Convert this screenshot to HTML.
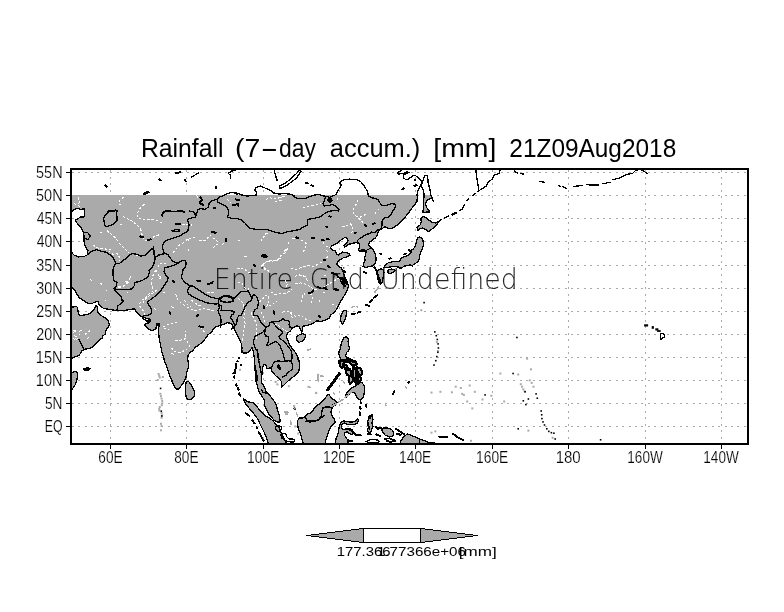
<!DOCTYPE html>
<html lang="en"><head><meta charset="utf-8"><title>Rainfall (7-day accum.) [mm] 21Z09Aug2018</title>
<style>
html,body{margin:0;padding:0;background:#fff;}
body{width:784px;height:612px;overflow:hidden;}
svg{display:block;}
text{font-family:"Liberation Sans",sans-serif;fill:#000;}
.lab{stroke:#fff;stroke-width:0.18px;}
.ttl{}
.egu{font-family:"DejaVu Sans","Liberation Sans",sans-serif;font-weight:200;fill-opacity:0.85;}
.grid{stroke:#aaa;stroke-width:1;fill:none;shape-rendering:crispEdges;}
.gh{stroke-dasharray:2 4.4;}
.gv{stroke-dasharray:2 4.5;}
.coast{fill:none;stroke:#000;stroke-width:1.3;stroke-linejoin:round;stroke-linecap:round;shape-rendering:crispEdges;}
.land{fill:#aaa;stroke:none;shape-rendering:crispEdges;}
.isl{fill:none;stroke:#000;stroke-width:1.3;stroke-linejoin:round;shape-rendering:crispEdges;}
.river{fill:none;stroke:#fff;stroke-width:1;stroke-dasharray:2.5 1.8;shape-rendering:crispEdges;}
.gd{fill:#aaa;}
.bd{fill:#000;}
</style></head><body>
<svg width="784" height="612" viewBox="0 0 784 612">
<rect x="0" y="0" width="784" height="612" fill="#fff"/>
<defs><clipPath id="plot"><rect x="71" y="169" width="677" height="275"/></clipPath><clipPath id="landclip"><rect x="71" y="195" width="677" height="249"/></clipPath></defs>
<g clip-path="url(#landclip)"><polygon class="land" points="71,195 417,195.1 417.4,197.3 416.9,201.6 414.3,205.1 411.4,208.7 408.6,213 405,217.3 401.4,220.9 397.9,224.4 394.3,227.3 390.7,228.7 387.1,228 385,226.6 382.1,228.7 380,229.4 381.2,228.9 378.6,231.1 377,235.4 375.4,238 372.1,240.2 369.5,242.3 368.4,245.5 371.1,247.1 373.2,249.8 374.8,253 375.9,256.8 375.9,261.1 374.8,264.3 372.7,265.9 368.9,266.4 365.7,267.5 363,266.4 363.6,263.8 365.2,260.5 364.6,257.3 365.7,254.1 366.2,251.4 363.6,250.9 360.4,251.4 358.2,249.8 359.8,247.1 359.3,243.9 356.6,242.6 352.9,243.1 349.6,244.1 347,245.5 344.8,246.9 343.8,245.5 346.4,243.4 348,240.7 347.5,238.4 344.8,237.5 342.1,239.1 338.9,241.8 335.7,244.1 332,245.9 330.4,247.7 331.4,249.5 335.2,250.9 336.8,254.1 338.4,254.9 340.5,253.6 342.1,252 345.9,252.5 349.1,253.4 349.9,255.5 347,256.8 343.2,257.9 340.5,259.5 338.1,261.6 336.8,264.3 338.7,266.6 341.3,267.7 342.7,270.7 344.1,275 345.9,279.3 347,281.8 348.6,286.1 347,290.4 344.8,294.6 342.7,298.4 340,302.1 338.4,305.4 336.8,309.1 334.1,312.3 330.9,315 329.3,318.2 325,320.4 320.7,321.4 316.4,320.9 314.3,322.5 311.1,324.1 308.4,325.2 305.2,325.7 303,326.2 302.5,328.9 302,332.1 300.4,330 299.8,327.3 297.1,325.7 295,326.8 292.3,328.4 290.2,331.1 288,332.7 286.4,335.4 287,338.6 288.6,342.3 290.2,345.5 292.3,348.8 295,352 297.1,355.7 298.2,360 298.4,358.1 299.3,362.6 299.5,367.1 298.9,370.7 297.1,373.8 294.4,376.1 291.7,377.9 289,380.1 286.7,382.3 284,385 281.5,387.3 281.5,384.6 281.3,381.5 280,379.2 277.7,377.4 275.5,375.6 273.7,373.4 271.9,371.1 271.5,368.4 270.1,368 267,368.4 266.1,366.2 265.6,364.4 263.8,364.2 262.9,366.6 262.5,369.8 262,373.4 261.6,377 261.1,380.1 262,383.2 263.8,385.9 265.2,388.6 266.1,391.8 268.3,394 270.6,396.3 272.3,399 274.6,401.7 275.6,403 276.8,407.2 278,411.4 279.2,415 279.8,419.2 280.4,421.8 278,422.2 275,421 272.6,418.6 270.2,415.6 267.8,412.6 266,408.4 264.2,404.2 264.2,400 262.4,397 260,393.4 258.2,389.2 257,384.4 256.2,382.3 255.7,378.8 255.3,375.2 255.7,371.6 255.3,368 254.8,364.4 254.4,360.8 254.2,357.2 253.5,353.6 253,350 252,347.4 250.2,350.4 247.2,352.8 243.6,353.4 241.4,351.6 242.1,348 241.4,343.8 239.4,339.6 237.6,335.4 235.2,331.2 233.4,327 231,323.4 227.4,322.8 223.2,324.6 219,325.8 215.4,327 212.4,330.6 212.7,330 211.5,332.4 207.9,334.8 205.5,338.4 202.5,342 198.9,345 195.3,347.4 192.9,350.4 189.9,352.8 188.2,355.2 187.6,358.8 188.2,362.3 188.5,365.9 188,368.6 186.8,372.2 186.2,376.4 185,380 183.2,383 181.4,385.4 179.6,388.4 177.2,389.3 174.8,387.2 173,383.6 171.4,379.4 169.4,374.6 167.6,369.8 166.4,365 165.4,363.5 163.6,357.6 161.8,351.6 160.6,345.6 159.4,339.6 158.8,334.8 158.8,330 158.2,325.8 157.6,323.4 157.6,323.4 156.5,325.2 155.9,328.8 152.9,330.5 149.9,329.9 146.9,327.6 144.5,325.2 145.7,323.4 148.7,322.8 150.5,321 149.9,319.2 145.7,318 142.7,317.4 139.1,315 136.7,312 134.3,309 130.7,309.3 125.9,310.2 121.2,310.5 117.6,310.8 114,310.2 110.4,309.6 106.8,309 103.2,308.1 100.8,306.6 99,304.2 98.1,301.8 96,301.8 94.2,302.4 91.8,303.6 88.8,303.8 85.8,302.1 82.8,300 79.8,298.2 78,295.8 76.2,292.8 74.4,289.8 72.6,288 71,287.4 71,287.4 72,252.9 74,255 77.9,256.9 83.6,256.7 87.1,255 87.9,250.7 85.7,247.1 84.3,244.3 84,240 83.9,235.4 82.9,231.4 81.4,228.3 79.3,225.7 77.1,223.1 75.4,220.3 77.9,218.6 81.1,216.9 84.3,216.9 84.9,212.9 84.3,209 80.7,209.3 77.1,208.3 74.3,209.3 72,211.7 71,211.7"/>
<polygon class="land" points="71,306 71,306 73.2,307.2 75,306 77.4,307.2 78,311.4 79.2,315.3 82.8,315.3 86.4,314.6 90,313.4 92.4,311.4 94.8,308.4 96,305.4 97.4,307.2 97.4,310.8 98.4,313.2 100.8,315.3 103.8,317 106.8,319.2 108.6,321.6 109.2,324.6 108,327.6 106.2,329.9 105,334.2 102.6,336 102,338.4 99.6,339.6 97.8,341.4 96,343.8 94.2,345 92.4,347.4 90,348.2 87,348.9 84,349.4 81.6,351 80.4,353.4 79.2,355.2 76.2,356.4 73.2,357.8 71,358.5 71,358.5"/>
<polygon class="land" points="344.3,310.2 346.4,310.7 346.6,313.9 345.4,318.2 343.8,322.5 342.1,324.1 340.9,321.4 340.5,317.7 341.6,313.9 343.2,311.2"/>
<polygon class="land" points="296.6,337 299.3,334.8 302.5,333.8 305.2,334.3 305.7,336.4 304.1,339.1 302,341.2 299.3,342.3 297.1,341.2 296.3,339.1"/>
<polygon class="land" points="186.2,381.8 188.6,381.5 191,384.2 192.8,387.8 194.2,391.4 194.6,395 193.4,397.6 191,399.2 188,399.5 186.2,397.4 185.6,393.8 185.3,389.6 185.6,385.4"/>
<polygon class="land" points="421.4,217.3 424.3,216.6 427.9,219.4 432.1,222.3 435.7,223 438.6,221.6 436.4,225.1 434.3,227.3 431.4,229.4 428.6,231.6 425.7,229.4 422.9,228 420,228.7 417.9,230.9 417.1,227.3 420,225.1 421.4,221.6 420.7,218.7"/>
<polygon class="land" points="419.3,237.1 421.4,237.7 423,240.9 423.6,244.6 422.5,248.4 420.9,251.6 419.8,255.4 419.3,259.1 417.7,261.8 415.5,263.4 413.4,264.5 412.3,266.1 410.2,265 407.5,265.5 404.3,266.1 402.1,267.7 400,268.2 398.4,267.1 395.7,266.6 392.5,266.6 389.3,267.1 386.1,267.7 383.9,267.1 386.1,264.5 388.2,262.9 391.4,262 395.7,261.2 399.5,261.2 400.5,259.1 402.1,257.5 404.3,256.4 407,255.9 409.6,254.3 411.8,252.1 411.2,250 413.4,248.9 415,246.8 416.1,243.6 416.6,240.4 417.7,237.7"/>
<polygon class="land" points="378,270.4 380.7,268.8 383.4,269.8 383.9,272.5 383.4,275.7 382.9,278.9 382.3,282.1 380.7,284.3 379.1,282.7 378,279.5 377.5,275.7 377,273"/>
<polygon class="land" points="387.7,270.4 390.9,269.1 394.1,269.3 395.2,270.9 393,272.5 390.4,273.6 388.2,273"/>
<polygon class="land" points="71,373.8 73.2,372 76.2,371.4 77.4,373.2 77.4,376.8 76.8,380.4 75.6,384 73.8,387 72,389.3 71,389.9 69.6,389.9 69.6,373.8"/>
<polygon class="land" points="84,368.6 87,367.9 90,368.4 89.7,369.8 86.4,370.3 84,370"/>
<polygon class="land" points="424.7,175.4 427.3,175.9 427.8,178.6 428.1,182.2 428.7,184.9 429.6,188.5 430.5,192.1 430.9,195.2 431.8,197 433.6,201.5 432.7,199.7 431.4,198.3 429.6,198.8 427.8,199.7 426.5,201.5 425.6,203.7 426,205.5 426.9,207.8 428.2,209.6 429.6,210.9 429.1,212.3 426.9,211.8 424.7,212.7 422.9,212.3 423.3,209.1 423.6,205.5 423.6,201.9 423.8,198.3 424.2,195.2 423.9,193 423.3,190.7 422.4,188 421.5,186.2 422,183.5 422.9,180.8 423.8,178.1"/>
<polygon class="land" points="243.8,398.8 246.8,401.4 250.4,402.4 254,403 256.4,406 259.4,409.6 263,413.2 266,416.2 269.6,418 273.2,421 275.6,424 278,426.4 280.4,429.9 281.6,434.7 284,438.3 286.4,443.4 286.4,446.7 268.4,446.7 268.4,443.4 266.6,438.3 264.8,433.5 262.4,428.8 260,424 258.2,419.8 255.8,416.2 252.8,412.6 249.8,409 246.8,405.4 244.4,401.8"/>
<polygon class="land" points="303.1,446.7 303.1,443 301.9,439.5 301.3,435.9 300.1,432.3 298.3,428.8 297.7,424.6 297.7,420.4 299.5,418 303.1,418 305.5,416.2 307.9,413.8 311.5,412.6 313.6,409.2 317.2,405.6 320.8,402.6 324.4,399 327.4,395.4 328.6,394.2 330.4,396.6 332.8,399 335.8,400.8 337,402.6 335.2,405 332.8,406.8 331.6,409.2 331,412.2 332.2,415.8 334,418.8 335.2,422.4 333.4,424.2 331,426.6 329.2,430.2 328,433.8 326.8,437.3 325.6,440.9 325,443.3 325,446.9"/>
<polygon class="land" points="344.1,337.3 346.8,336.8 348.4,338.9 348.1,342.1 348.7,345.4 349.5,348 348.4,350.7 346.8,352.3 345.7,355 346.2,357.1 348.9,358.2 351.6,359.8 354.3,360.9 356.4,362.5 357,364.6 355.4,365.7 352.7,365.2 350.5,363.6 348.9,362.5 346.8,361.4 344.1,360.4 341.4,359.8 339.8,357.1 338.8,353.9 339.1,351.2 340.4,349.1 340.9,345.9 341.4,342.7 342.5,340"/>
<polygon class="land" points="348.4,390.6 351.4,388.2 355,386.4 358,383.4 361.6,382.2 364,385.2 364.6,389.4 364,394.2 362.8,397.8 360.4,400.2 358,398.4 356.2,396 355,393 352.6,391.8 350.2,393 348.4,394.8 346.6,397.2 345.4,396 346.6,393"/>
<polygon class="land" points="358.6,420 357.4,423 354.4,424.4 350.8,424.8 347.2,424.4 344.2,423 342.1,424.2 341.4,427.2 343,429.6 346,429 349,428.4 352,429.6 353.2,432.6 352,434.9 349.6,433.8 347.2,432 344.8,432.6 344.2,434.9 346,437.3 347.8,440.3 348.4,443.9 348.4,446.9 335.2,446.9 335.2,443.3 335.8,439.7 337,436.1 338.2,432.6 338.8,429 339.4,425.4 341.2,422.4 343.6,420.8 347.2,421.8 352,422 355.6,421.2 357.7,419.1"/>
<polygon class="land" points="369.3,415.8 372.3,414.6 372.9,419.4 371.7,423 372.9,426.6 371.1,431.4 368.8,433.8 367.6,430.2 368.8,425.4 367.6,421.8"/>
<polygon class="land" points="381.3,428.3 386.4,427.8 391.5,429.3 393.6,432.3 393,435.9 389.5,436.9 385.4,435.4 382.8,432.3"/>
<polygon class="land" points="400.2,446.9 400.2,442.1 403.2,437.3 407.4,433.8 411.6,435.5 415.8,437.3 420,439.1 424.8,440.9 428.4,442.4 434.4,443.1 434.4,446.9"/></g><g><line class="grid gh" x1="71.8" y1="426.5" x2="747" y2="426.5"/><line class="grid gh" x1="71.8" y1="403.5" x2="747" y2="403.5"/><line class="grid gh" x1="71.8" y1="380.5" x2="747" y2="380.5"/><line class="grid gh" x1="71.8" y1="357.5" x2="747" y2="357.5"/><line class="grid gh" x1="71.8" y1="334.5" x2="747" y2="334.5"/><line class="grid gh" x1="71.8" y1="311.5" x2="747" y2="311.5"/><line class="grid gh" x1="71.8" y1="288.5" x2="747" y2="288.5"/><line class="grid gh" x1="71.8" y1="265.5" x2="747" y2="265.5"/><line class="grid gh" x1="71.8" y1="241.5" x2="747" y2="241.5"/><line class="grid gh" x1="71.8" y1="218.5" x2="747" y2="218.5"/><line class="grid gh" x1="71.8" y1="195.5" x2="747" y2="195.5"/><line class="grid gh" x1="71.8" y1="172.5" x2="747" y2="172.5"/><line class="grid gv" x1="110.5" y1="170" x2="110.5" y2="443"/><line class="grid gv" x1="186.5" y1="170" x2="186.5" y2="443"/><line class="grid gv" x1="263.5" y1="170" x2="263.5" y2="443"/><line class="grid gv" x1="339.5" y1="170" x2="339.5" y2="443"/><line class="grid gv" x1="415.5" y1="170" x2="415.5" y2="443"/><line class="grid gv" x1="492.5" y1="170" x2="492.5" y2="443"/><line class="grid gv" x1="568.5" y1="170" x2="568.5" y2="443"/><line class="grid gv" x1="645.5" y1="170" x2="645.5" y2="443"/><line class="grid gv" x1="721.5" y1="170" x2="721.5" y2="443"/></g><g clip-path="url(#plot)"><text class="egu" font-size="28.3"><tspan x="213.77" y="288.6" textLength="79.27" lengthAdjust="spacingAndGlyphs">Entire</tspan> <tspan x="309.86" y="288.6" textLength="53.98" lengthAdjust="spacingAndGlyphs">Grid</tspan> <tspan x="380.23" y="288.6" textLength="137.61" lengthAdjust="spacingAndGlyphs">Undefined</tspan></text><polyline class="river" points="107.1,230.7 111.4,234.3 115.7,237.9 119.3,242.9 122.9,247.1 126.4,250.7 128.6,252.9"/>
<polyline class="river" points="122.9,216.4 127.1,218.6 131.4,220.7 136.4,224.3 140.7,228.6 141.4,232.9 143.6,238.6 145.7,240.7 150,239.3 155.7,235.7 161.4,234.3"/>
<polyline class="river" points="144.3,204.3 140,208.6 137.1,213.6 137.9,217.9 141.4,219.3 147.9,219.3 155.7,220 161.4,222.9"/>
<polyline class="river" points="77.9,197.1 79.3,201.4 78.6,205.7 81.1,207.9"/>
<polyline class="river" points="73.6,202.9 75.7,204.3"/>
<polyline class="river" points="123.6,197.1 119.3,200.7 119.3,204.3 122.9,204.3"/>
<polyline class="river" points="100,232.9 103.6,232.1"/>
<polyline class="river" points="120,225 122.9,223.6"/>
<polyline class="river" points="92.9,245 98.6,248.6 104.3,248.6 108.6,250 112.9,247.9"/>
<polyline class="river" points="108.6,250.7 112.9,254.3 117.1,253.6 119.3,257.1 120,261.4"/>
<polyline class="river" points="135.7,255 140,256.4 144.3,255"/>
<polyline class="river" points="172.9,252.9 176.4,248.6 180,244.3 182,243.6"/>
<polyline class="river" points="157.9,267.1 160,262.9 162.9,263.6 167.1,262.9"/>
<polyline class="river" points="155.7,270 157.9,273.6 159.3,277"/>
<polyline class="river" points="196.3,195.4 198,197.4"/>
<polyline class="river" points="182,224.3 187.7,224.3 192,225.1"/>
<polyline class="river" points="182,243.6 185.6,241.4 187.7,238.6 192,237.9 196.3,237.1"/>
<polyline class="river" points="187.7,238.6 189.1,242.9"/>
<polyline class="river" points="199.1,240 204.9,240.7 208.4,237.1 209.9,235 212.7,237.9 216.3,240 218.4,243.6 214.9,246.4 210.6,248.6"/>
<polyline class="river" points="222,244.3 226.3,242.9"/>
<polyline class="river" points="237.7,240.1 240.9,240.3"/>
<polyline class="river" points="260.6,241.4 263.4,237.9 264.9,234.3 267.7,232.9"/>
<polyline class="river" points="265.6,199.3 270.6,197.9 276.3,198.6 282,197.1 285.1,196.4"/>
<polyline class="river" points="274.9,201.4 282,200.7"/>
<polyline class="river" points="287.7,248.6 284.9,252.9 280.6,255.7 279.1,258.6 274.9,260.7 269.1,260.7 264.1,262.9 263.4,267.1 266.3,270 270.6,272.9"/>
<polyline class="river" points="244.3,256.4 248,257.1"/>
<polyline class="river" points="237,268.6 240.6,267.9"/>
<polyline class="river" points="244.9,268.6 249.1,272.9"/>
<polyline class="river" points="227,199.3 230.6,202.6"/>
<polyline class="river" points="288.4,242.1 288.4,244.3"/>
<polyline class="river" points="292,238.6 294,238.3"/>
<polyline class="river" points="188.4,248.6 189.1,251.4"/>
<polyline class="river" points="357.9,200.1 356.4,203.7 354.3,207.3 352.9,210.9 354.3,214.4 357.9,217.3 361.4,220.9 364.3,224.4 365.7,227.3"/>
<polyline class="river" points="360,217.3 365.7,214.4"/>
<polyline class="river" points="375,211.6 376,214.4"/>
<polyline class="river" points="378.6,208.7 378.9,210.1"/>
<polyline class="river" points="342.1,226.3 347.1,225.9 350,223.7 352.9,226.6 352.9,230.9 350,234.4"/>
<polyline class="river" points="302.9,208 308.6,206.3 315.7,205.1 321.4,203.7"/>
<polyline class="river" points="280,197.3 284.3,196.6"/>
<polyline class="river" points="292.9,238 298.6,238.7 302.9,240.9 306.4,243.7 305.7,248 302.9,252.3"/>
<polyline class="river" points="285.7,249.4 282.9,253.7"/>
<polyline class="river" points="322.9,242.3 325.7,245.9 330,247.3"/>
<polyline class="river" points="326.4,250.1 327.9,252.3"/>
<polyline class="river" points="337.1,198.7 337.9,200.1"/>
<polyline class="river" points="260.9,266.4 263.7,263.6 269.4,261.4 276.6,260.7 280.9,257.9"/>
<polyline class="river" points="295.1,283.6 300.9,282.9 306.6,284.3 310.9,287.1 313.7,290 318,289.3 323.7,287.1 329.4,283.6 336.6,279.3 342.3,277.1"/>
<polyline class="river" points="295.1,276.4 299.4,275 305.1,276.4 308,281.4"/>
<polyline class="river" points="290.9,268.6 296.6,269.3 302.3,267.1 308,265.7 313.7,266.4 319.4,263.6 325.1,259.3 329.4,255"/>
<polyline class="river" points="270.9,292.1 275.1,294.3 280.9,293.6 286.6,292.9 292.3,289.3"/>
<polyline class="river" points="300.9,302.1 302.3,296.4 305.1,293.6"/>
<polyline class="river" points="310.9,303.6 312.3,297.9 310.9,294.3"/>
<polyline class="river" points="319.4,302.1 320.9,297.9"/>
<polyline class="river" points="282.3,312.1 288,311.4 292.3,315 296.6,316.4 300.9,315 306.6,320 312.3,320.7"/>
<polyline class="river" points="290.9,312.1 292.3,317.9"/>
<polyline class="river" points="240.9,267.9 246.6,270.7 250.9,273.6"/>
<polyline class="river" points="238,297.9 242.3,302.1 245.1,309.3 243.7,316.4 245.1,323.6 243.7,332.1 242.3,340.7"/>
<polyline class="river" points="250.9,312.1 253.7,317.9 256.6,323.6 256.6,332.1 256.6,340.7"/>
<polyline class="river" points="259.4,302.1 263.7,297.9 266.6,295"/>
<polyline class="river" points="268,296.4 268.7,303.6 266.6,306.4 272.3,305 276.6,300.7"/>
<polyline class="river" points="260.9,312.1 263.7,316.4 264.4,322.1"/>
<polyline class="river" points="274.4,323.6 279.4,326.4 283.7,329.3 288,332.1"/>
<polyline class="river" points="263.7,269.3 268,270.7 270.9,273.6"/>
<polyline class="river" points="243.7,256.4 248,257.1"/>
<polyline class="river" points="332.3,304.3 336.6,306.4"/>
<polyline class="river" points="323.7,292.1 325.4,293.3"/>
<polyline class="river" points="238,282.1 242.3,283.6 245.1,287.9 249.4,289.3"/>
<polyline class="river" points="323.7,275 326.6,276.4"/>
<polyline class="river" points="285.1,280.7 287.3,283.6 286.6,287.1"/>
<polyline class="river" points="155.7,270 152.9,275.7 151.4,281.4 152.1,287.1 152.9,291.4 148.6,294.3 145,297.9 141.4,300.7 139.3,304.3 140.7,308.6 144.3,311.4 145,315.7"/>
<polyline class="river" points="160.7,277.1 158.6,281.4"/>
<polyline class="river" points="157.1,290 152.9,292.9 148.6,296.4 144.3,300 142.9,304.3"/>
<polyline class="river" points="159.3,276.4 161.4,277.1 160.7,279.3"/>
<polyline class="river" points="118.6,287.9 124.3,285.7 127.9,281.4 130.7,277.1"/>
<polyline class="river" points="126.9,292.1 128.3,292.6"/>
<polyline class="river" points="175.7,294.3 177.1,298.6 180,302.1 184.3,305 188.6,307.9 192.9,310 198.6,310 204.3,308.6 210,310 215.7,310.7"/>
<polyline class="river" points="184.3,300 187.1,304.3 191.4,307.1"/>
<polyline class="river" points="191.4,300 195.7,303.6 201.4,306.4"/>
<polyline class="river" points="171.4,306.4 173.6,307.9"/>
<polyline class="river" points="207.1,292.1 215.7,292.1"/>
<polyline class="river" points="162.9,327.1 167.1,325 172.9,323.6 178.6,321.4"/>
<polyline class="river" points="163.6,328.6 168.6,329.3"/>
<polyline class="river" points="200,327.1 202.9,330 205.7,333.6"/>
<polyline class="river" points="175,340 181.4,340 185.7,338.6 185.7,331.4"/>
<polyline class="river" points="187.1,340.7 189.3,345.7 191.4,347.9"/>
<polyline class="river" points="171.4,347.9 174.3,351.4 178.6,352.9 184.3,350.7 187.1,349.3"/>
<polyline class="river" points="171.4,353.6 174.3,354.3"/>
<polyline class="river" points="154.3,308.6 156,309.3"/>
<polyline class="river" points="163.6,292.1 165,292.6"/>
<polyline class="river" points="73.2,330.6 75.6,330"/>
<polyline class="river" points="79.2,331.4 81.6,330.6"/>
<polyline class="river" points="74.4,335.4 78,338.4"/>
<polyline class="river" points="85.2,334.2 90,331.4"/>
<polyline class="river" points="87.3,338.2 88.8,337.4"/>
<polyline class="river" points="73.2,338.4 75,340.2"/>
<polyline class="river" points="73.2,332.3 77.4,330.5"/>
<polyline class="river" points="78.6,335.3 81.6,332.3"/>
<polyline class="river" points="85.2,334.7 90,329.9"/>
<polyline class="river" points="75,338.3 77.4,340.1"/>
<polyline class="river" points="90.6,279 91.8,281.4"/>
<polyline class="river" points="100.2,283.2 104.4,285.6"/>
<polyline class="river" points="105.6,289.8 106.8,290.4"/>
<polyline class="river" points="105,300 105.8,300.7"/>
<polyline class="river" points="130.1,276.6 130.7,278.4"/>
<polyline class="river" points="125.3,282 128.9,281.4 127.1,284.4"/>
<polyline class="river" points="118.2,286.8 122.4,286.8"/>
<polyline class="coast" points="417,195.1 417.4,197.3 416.9,201.6 414.3,205.1 411.4,208.7 408.6,213 405,217.3 401.4,220.9 397.9,224.4 394.3,227.3 390.7,228.7 387.1,228 385,226.6 382.1,228.7 380,229.4 381.2,228.9 378.6,231.1 377,235.4 375.4,238 372.1,240.2 369.5,242.3 368.4,245.5 371.1,247.1 373.2,249.8 374.8,253 375.9,256.8 375.9,261.1 374.8,264.3 372.7,265.9 368.9,266.4 365.7,267.5 363,266.4 363.6,263.8 365.2,260.5 364.6,257.3 365.7,254.1 366.2,251.4 363.6,250.9 360.4,251.4 358.2,249.8 359.8,247.1 359.3,243.9 356.6,242.6 352.9,243.1 349.6,244.1 347,245.5 344.8,246.9 343.8,245.5 346.4,243.4 348,240.7 347.5,238.4 344.8,237.5 342.1,239.1 338.9,241.8 335.7,244.1 332,245.9 330.4,247.7 331.4,249.5 335.2,250.9 336.8,254.1 338.4,254.9 340.5,253.6 342.1,252 345.9,252.5 349.1,253.4 349.9,255.5 347,256.8 343.2,257.9 340.5,259.5 338.1,261.6 336.8,264.3 338.7,266.6 341.3,267.7 342.7,270.7 344.1,275 345.9,279.3 347,281.8 348.6,286.1 347,290.4 344.8,294.6 342.7,298.4 340,302.1 338.4,305.4 336.8,309.1 334.1,312.3 330.9,315 329.3,318.2 325,320.4 320.7,321.4 316.4,320.9 314.3,322.5 311.1,324.1 308.4,325.2 305.2,325.7 303,326.2 302.5,328.9 302,332.1 300.4,330 299.8,327.3 297.1,325.7 295,326.8 292.3,328.4 290.2,331.1 288,332.7 286.4,335.4 287,338.6 288.6,342.3 290.2,345.5 292.3,348.8 295,352 297.1,355.7 298.2,360 298.4,358.1 299.3,362.6 299.5,367.1 298.9,370.7 297.1,373.8 294.4,376.1 291.7,377.9 289,380.1 286.7,382.3 284,385 281.5,387.3 281.5,384.6 281.3,381.5 280,379.2 277.7,377.4 275.5,375.6 273.7,373.4 271.9,371.1 271.5,368.4 270.1,368 267,368.4 266.1,366.2 265.6,364.4 263.8,364.2 262.9,366.6 262.5,369.8 262,373.4 261.6,377 261.1,380.1 262,383.2 263.8,385.9 265.2,388.6 266.1,391.8 268.3,394 270.6,396.3 272.3,399 274.6,401.7 275.6,403 276.8,407.2 278,411.4 279.2,415 279.8,419.2 280.4,421.8 278,422.2 275,421 272.6,418.6 270.2,415.6 267.8,412.6 266,408.4 264.2,404.2 264.2,400 262.4,397 260,393.4 258.2,389.2 257,384.4 256.2,382.3 255.7,378.8 255.3,375.2 255.7,371.6 255.3,368 254.8,364.4 254.4,360.8 254.2,357.2 253.5,353.6 253,350 252,347.4 250.2,350.4 247.2,352.8 243.6,353.4 241.4,351.6 242.1,348 241.4,343.8 239.4,339.6 237.6,335.4 235.2,331.2 233.4,327 231,323.4 227.4,322.8 223.2,324.6 219,325.8 215.4,327 212.4,330.6 212.7,330 211.5,332.4 207.9,334.8 205.5,338.4 202.5,342 198.9,345 195.3,347.4 192.9,350.4 189.9,352.8 188.2,355.2 187.6,358.8 188.2,362.3 188.5,365.9 188,368.6 186.8,372.2 186.2,376.4 185,380 183.2,383 181.4,385.4 179.6,388.4 177.2,389.3 174.8,387.2 173,383.6 171.4,379.4 169.4,374.6 167.6,369.8 166.4,365 165.4,363.5 163.6,357.6 161.8,351.6 160.6,345.6 159.4,339.6 158.8,334.8 158.8,330 158.2,325.8 157.6,323.4 157.6,323.4 156.5,325.2 155.9,328.8 152.9,330.5 149.9,329.9 146.9,327.6 144.5,325.2 145.7,323.4 148.7,322.8 150.5,321 149.9,319.2 145.7,318 142.7,317.4 139.1,315 136.7,312 134.3,309 130.7,309.3 125.9,310.2 121.2,310.5 117.6,310.8 114,310.2 110.4,309.6 106.8,309 103.2,308.1 100.8,306.6 99,304.2 98.1,301.8 96,301.8 94.2,302.4 91.8,303.6 88.8,303.8 85.8,302.1 82.8,300 79.8,298.2 78,295.8 76.2,292.8 74.4,289.8 72.6,288 71,287.4"/>
<polyline class="coast" points="71,306 73.2,307.2 75,306 77.4,307.2 78,311.4 79.2,315.3 82.8,315.3 86.4,314.6 90,313.4 92.4,311.4 94.8,308.4 96,305.4 97.4,307.2 97.4,310.8 98.4,313.2 100.8,315.3 103.8,317 106.8,319.2 108.6,321.6 109.2,324.6 108,327.6 106.2,329.9 105,334.2 102.6,336 102,338.4 99.6,339.6 97.8,341.4 96,343.8 94.2,345 92.4,347.4 90,348.2 87,348.9 84,349.4 81.6,351 80.4,353.4 79.2,355.2 76.2,356.4 73.2,357.8 71,358.5"/>
<polyline class="coast" points="72,211.7 74.3,209.3 77.1,208.3 80.7,209.3 84.3,209 84.9,212.9 84.3,216.9 81.1,216.9 77.9,218.6 75.4,220.3 77.1,223.1 79.3,225.7 81.4,228.3 82.9,231.4 83.9,235.4 84,240 84.3,244.3 85.7,247.1 87.9,250.7 87.1,255 83.6,256.7 77.9,256.9 74,255 72,252.9"/>
<polygon class="isl" points="344.3,310.2 346.4,310.7 346.6,313.9 345.4,318.2 343.8,322.5 342.1,324.1 340.9,321.4 340.5,317.7 341.6,313.9 343.2,311.2"/>
<polygon class="isl" points="296.6,337 299.3,334.8 302.5,333.8 305.2,334.3 305.7,336.4 304.1,339.1 302,341.2 299.3,342.3 297.1,341.2 296.3,339.1"/>
<polygon class="isl" points="186.2,381.8 188.6,381.5 191,384.2 192.8,387.8 194.2,391.4 194.6,395 193.4,397.6 191,399.2 188,399.5 186.2,397.4 185.6,393.8 185.3,389.6 185.6,385.4"/>
<polygon class="isl" points="421.4,217.3 424.3,216.6 427.9,219.4 432.1,222.3 435.7,223 438.6,221.6 436.4,225.1 434.3,227.3 431.4,229.4 428.6,231.6 425.7,229.4 422.9,228 420,228.7 417.9,230.9 417.1,227.3 420,225.1 421.4,221.6 420.7,218.7"/>
<polygon class="isl" points="419.3,237.1 421.4,237.7 423,240.9 423.6,244.6 422.5,248.4 420.9,251.6 419.8,255.4 419.3,259.1 417.7,261.8 415.5,263.4 413.4,264.5 412.3,266.1 410.2,265 407.5,265.5 404.3,266.1 402.1,267.7 400,268.2 398.4,267.1 395.7,266.6 392.5,266.6 389.3,267.1 386.1,267.7 383.9,267.1 386.1,264.5 388.2,262.9 391.4,262 395.7,261.2 399.5,261.2 400.5,259.1 402.1,257.5 404.3,256.4 407,255.9 409.6,254.3 411.8,252.1 411.2,250 413.4,248.9 415,246.8 416.1,243.6 416.6,240.4 417.7,237.7"/>
<polygon class="isl" points="378,270.4 380.7,268.8 383.4,269.8 383.9,272.5 383.4,275.7 382.9,278.9 382.3,282.1 380.7,284.3 379.1,282.7 378,279.5 377.5,275.7 377,273"/>
<polygon class="isl" points="387.7,270.4 390.9,269.1 394.1,269.3 395.2,270.9 393,272.5 390.4,273.6 388.2,273"/>
<polygon class="isl" points="71,373.8 73.2,372 76.2,371.4 77.4,373.2 77.4,376.8 76.8,380.4 75.6,384 73.8,387 72,389.3 71,389.9 69.6,389.9 69.6,373.8"/>
<polygon class="isl" points="84,368.6 87,367.9 90,368.4 89.7,369.8 86.4,370.3 84,370"/>
<polygon class="isl" points="424.7,175.4 427.3,175.9 427.8,178.6 428.1,182.2 428.7,184.9 429.6,188.5 430.5,192.1 430.9,195.2 431.8,197 433.6,201.5 432.7,199.7 431.4,198.3 429.6,198.8 427.8,199.7 426.5,201.5 425.6,203.7 426,205.5 426.9,207.8 428.2,209.6 429.6,210.9 429.1,212.3 426.9,211.8 424.7,212.7 422.9,212.3 423.3,209.1 423.6,205.5 423.6,201.9 423.8,198.3 424.2,195.2 423.9,193 423.3,190.7 422.4,188 421.5,186.2 422,183.5 422.9,180.8 423.8,178.1"/>
<polygon class="isl" points="243.8,398.8 246.8,401.4 250.4,402.4 254,403 256.4,406 259.4,409.6 263,413.2 266,416.2 269.6,418 273.2,421 275.6,424 278,426.4 280.4,429.9 281.6,434.7 284,438.3 286.4,443.4 286.4,446.7 268.4,446.7 268.4,443.4 266.6,438.3 264.8,433.5 262.4,428.8 260,424 258.2,419.8 255.8,416.2 252.8,412.6 249.8,409 246.8,405.4 244.4,401.8"/>
<polygon class="isl" points="303.1,446.7 303.1,443 301.9,439.5 301.3,435.9 300.1,432.3 298.3,428.8 297.7,424.6 297.7,420.4 299.5,418 303.1,418 305.5,416.2 307.9,413.8 311.5,412.6 313.6,409.2 317.2,405.6 320.8,402.6 324.4,399 327.4,395.4 328.6,394.2 330.4,396.6 332.8,399 335.8,400.8 337,402.6 335.2,405 332.8,406.8 331.6,409.2 331,412.2 332.2,415.8 334,418.8 335.2,422.4 333.4,424.2 331,426.6 329.2,430.2 328,433.8 326.8,437.3 325.6,440.9 325,443.3 325,446.9"/>
<polygon class="isl" points="344.1,337.3 346.8,336.8 348.4,338.9 348.1,342.1 348.7,345.4 349.5,348 348.4,350.7 346.8,352.3 345.7,355 346.2,357.1 348.9,358.2 351.6,359.8 354.3,360.9 356.4,362.5 357,364.6 355.4,365.7 352.7,365.2 350.5,363.6 348.9,362.5 346.8,361.4 344.1,360.4 341.4,359.8 339.8,357.1 338.8,353.9 339.1,351.2 340.4,349.1 340.9,345.9 341.4,342.7 342.5,340"/>
<polygon class="isl" points="348.4,390.6 351.4,388.2 355,386.4 358,383.4 361.6,382.2 364,385.2 364.6,389.4 364,394.2 362.8,397.8 360.4,400.2 358,398.4 356.2,396 355,393 352.6,391.8 350.2,393 348.4,394.8 346.6,397.2 345.4,396 346.6,393"/>
<polygon class="isl" points="358.6,420 357.4,423 354.4,424.4 350.8,424.8 347.2,424.4 344.2,423 342.1,424.2 341.4,427.2 343,429.6 346,429 349,428.4 352,429.6 353.2,432.6 352,434.9 349.6,433.8 347.2,432 344.8,432.6 344.2,434.9 346,437.3 347.8,440.3 348.4,443.9 348.4,446.9 335.2,446.9 335.2,443.3 335.8,439.7 337,436.1 338.2,432.6 338.8,429 339.4,425.4 341.2,422.4 343.6,420.8 347.2,421.8 352,422 355.6,421.2 357.7,419.1"/>
<polygon class="isl" points="369.3,415.8 372.3,414.6 372.9,419.4 371.7,423 372.9,426.6 371.1,431.4 368.8,433.8 367.6,430.2 368.8,425.4 367.6,421.8"/>
<polygon class="isl" points="381.3,428.3 386.4,427.8 391.5,429.3 393.6,432.3 393,435.9 389.5,436.9 385.4,435.4 382.8,432.3"/>
<polygon class="isl" points="400.2,446.9 400.2,442.1 403.2,437.3 407.4,433.8 411.6,435.5 415.8,437.3 420,439.1 424.8,440.9 428.4,442.4 434.4,443.1 434.4,446.9"/>
<polyline class="coast" points="417,195.2 417.5,192.1 418.8,188.9 420.2,186.2 421.5,184 422.4,181.7 421.1,180.4 419.3,179 417.5,177.2 415.2,175.4 412.5,175.9 410.3,177.7 408.5,179 406.2,179.5 404,178.6 403.5,175.9 404,173.2 406.7,171.8 408.9,172.3 406.7,173.6 404.9,174.5"/>
<polyline class="coast" points="404,173.2 401.3,173.6 399,174.1 397.2,172.7 399.5,171.4 401.3,170.5"/>
<polyline class="coast" points="384.4,439 389.5,438.7 394.6,439.5 395.6,441.7"/>
<polyline class="coast" points="366,441.7 369.1,440 373.1,439.3 377.2,440 379.8,441.7 376.2,442.6 370.1,442.6 366,441.7"/>
<polyline class="coast" points="475.7,168.7 476.7,177.2 478.8,190.5"/>
<polyline class="coast" points="500.2,169.5 499.2,173.2 494.1,175.2 492,179.3 488,182.3 485.9,186.4 480.8,189.5 477.8,191.5"/>
<polyline class="coast" points="514.5,171.1 517.6,173.2"/>
<polyline class="coast" points="520.6,173.6 523.7,174.2"/>
<polyline class="coast" points="540,181.3 544.1,182.3"/>
<polyline class="coast" points="558.4,185.4 560.4,186.4"/>
<polyline class="coast" points="562.4,186.4 566.5,188.5"/>
<polyline class="coast" points="573.7,186.4 582.9,185.4"/>
<polyline class="coast" points="586.9,184.8 597.1,184.4"/>
<polyline class="coast" points="590,185.4 598.2,185"/>
<polyline class="coast" points="602.2,183.8 610.4,182.3"/>
<polyline class="coast" points="612.4,179.7 618.6,178.3 622.7,176.2 627.8,174.2 632.9,173.2 635.9,170.1 641,169.5 645.1,172.1 647.1,173.2"/>
<polyline class="coast" points="475.7,193.2 472.7,195.6"/>
<polyline class="coast" points="468.6,198.7 466.5,200.7"/>
<polyline class="coast" points="464.5,204.8 462.4,208.9"/>
<polyline class="coast" points="456.3,213 452.2,215"/>
<polyline class="coast" points="438.6,221.6 441.4,219.4"/>
<polyline class="coast" points="444.3,218 448.6,215.9"/>
<polyline class="coast" points="451.4,214.4 455.7,212.3"/>
<polyline class="coast" points="460,210.1 462,209.1"/>
<polyline class="coast" points="87.1,255 90,252.1 93.6,250.7 96.4,249.7 100.7,251.1 105.7,252.1 109.3,254.3 112.9,257.1 115,261.4 115.7,263.6 119.3,263.6 122.9,260.7 126.4,258.3 129.3,255 132.1,253.6 136.4,254.3 140.7,256 144.3,255.7 147.9,252.9 150.7,249.3 152.9,248.9 154,252.9 154.3,257.1 155.7,257.1 158.6,255 162.1,254.3 165,253.6 167.9,254.3 168.6,255.7"/>
<polyline class="coast" points="115.7,263.6 113.6,267.1 112.9,271.4 113.6,277"/>
<polyline class="coast" points="168.6,255 164.3,252.9 162.1,247.1 163.6,242.9 167.1,240 171.4,238.6 176.4,237.1 182,235"/>
<polyline class="coast" points="117,310.2 117.6,306 120,304.2 122.4,301.8 121.8,298.8 120.6,295.8 118.2,293.4 115.2,291 114,288.6"/>
<polyline class="coast" points="114,288.6 116.4,285.6 117,282 114,280.8 113.4,277.2 112.8,273.6 112.8,270"/>
<polyline class="coast" points="114,288.6 118.8,289.8 123.6,289.4 128.3,289.8 132.5,288.6 134.3,285.6 134.9,282.6 139.1,281.4 142.7,280.2 145.7,278.4 148.1,276 149.3,273 149.3,270"/>
<polyline class="coast" points="153.8,246.4 153.8,250 154.4,254.8 155,259.6 153.8,263.8 152,268 149,270.4"/>
<polyline class="coast" points="155,257.2 158,255.4 161.6,254.2 165.8,253.6 168.2,254.8 170,257.8 172.4,260.8 176,262.6 179,262.6"/>
<polyline class="coast" points="164.6,268 164,271.6 165.8,275.2 168.2,277.6 167,281.2 164.6,284.8 162.2,288.4 160.4,291.4 158,293.8 155,296.2 151.4,299.2 147.2,301.6 149,305.2 151.4,308.8 151.4,313.5 148.4,315.3 144.2,315.3 143,318.3 146,320.7 148.4,323"/>
<polyline class="coast" points="164.6,268 168.8,266.8 172.4,265.6 176,264.4 179,262.6 181.4,260.8 185,260.8 186.2,263.2 185.6,266.8 183.2,269.2 182.6,272.8 181.4,275.8 182,278.8 184.4,281.8 187.4,284.2 190.4,286 192.8,286 196.4,288.4 199.9,290.8 203.5,293.2 207.1,295.6 211.9,297.4 216.7,298.6 219.7,298 222.7,296.2 226.3,295.6 229.9,296.2 234,298"/>
<polyline class="coast" points="190.4,286 188,289 187.4,292 189.2,294.4 192.8,296.8 197.6,299.2 202.3,301 207.1,302.8 211.9,303.7 216.7,304 218.5,302.8 219.1,298.6"/>
<polyline class="coast" points="182,234.3 184.9,232.9 187.7,231.4 188.4,227.9 189.1,224.3 187.7,220.7 188.4,218.6 192,217.9 195.6,217.1 196.3,214.3 197.7,210 200.6,208.6 204.9,209.3 208.4,207.1 209.1,203.6 210.6,201.4 214.1,200 217,199.3"/>
<polyline class="coast" points="217,199.3 219.1,197.1 223.4,195.7 227.7,193.6 232,192.1 236.3,192.9 242,195 246.3,196 252,195.7 256.3,195 256.3,191.4 254.9,190"/>
<polyline class="coast" points="217,199.3 217.7,202.1 222,204.3 226.3,206.4 228.4,210 228.4,213.6 227.7,217.1 231.3,218.3 237,218.6 242,220.3 245.6,223.6 247.7,226.4 250.6,228.6 256.3,229.3 262,229.7 266.3,229.3 270.6,230.7 276.3,232.6 282,233.6 287.7,231.7 294,230.7"/>
<polyline class="coast" points="271.3,190.7 273.4,192.9 279.1,194 284.9,193.6 290.6,194.3 294,195.7"/>
<polyline class="coast" points="350,179.4 355.7,179.4 360.7,181.6 364.3,185.9 367.1,190.9 368.6,195.9 372.9,198 377.9,199.4 380,203 382.1,205.9 387.1,205.1 391.4,203.7 395,204 395.7,206.6 392.9,210.9 390.7,215.1 387.9,217.3 384.3,218 382.1,220.9 382.1,225.1 381.4,228.7"/>
<polyline class="coast" points="381.2,228.9 378.6,229.5 376.4,231.1 374.3,232.7 371.6,232.1 369.5,233.8 366.2,234.3 364.1,235.9 361.4,237.5 358.8,239.1 357.1,241.2 358.8,243.7"/>
<polyline class="coast" points="359.8,250.4 363,249.5 366.2,250.4 368.9,249.1 371.3,247.4"/>
<polyline class="coast" points="258,305 257.6,307.7 254.9,309.9 253.5,312.6 254,315.8 257.6,315.8 258.9,318.5 260.3,321.2 261.6,323.4 263.9,325.2 266.1,327"/>
<polyline class="coast" points="266.1,327 264.8,329.7 263,332 260.3,333.8 257.6,335.1 255.3,336 254,339.1 253.5,342.7 254.4,345.9 255.8,349 257.6,351.7 258.5,355.3 258.9,360"/>
<polyline class="coast" points="266.1,327 268.8,326.1 269.7,323 272,321.6 275.6,321.2 278.7,321.2 281.4,320.3 283.2,318.5 285,320.3 287.7,320.7 289.5,322.1 289,324.8 289.9,327 292.2,327.6"/>
<polyline class="coast" points="272,321.6 273.8,323 275.1,325.2 276.9,327.5 279.1,329.3 281.8,331.1 282.7,333.3 280.5,335.1 278.7,336.5 280,338.7 282.7,340.5 285.4,343.2 288.1,346.3 290.4,349.5 291.7,352.6 292.2,356.2 291.7,360"/>
<polyline class="coast" points="266.1,327 265.2,331.1 264.3,333.8 265.7,336 268.4,336.5 268.8,339.6 267.9,342.7 266.6,345 268.4,345.4 271.1,343.6 273.8,342.3 276,341.4 277.8,342.7 279.6,345 280.9,348.1 282.3,351.7 283.6,355.3 284.5,360"/>
<polyline class="coast" points="257.1,350 257.5,354.5 258.4,359 259.3,363.5 260.2,368 261.1,372.5 261.6,376.1"/>
<polyline class="coast" points="271.5,368.4 272.8,364.4 274.6,361.7 277.7,361 281.3,361.2 284.9,361.2 288.5,360.8 291.2,361.2 292.1,363.5 292.6,366.6 292.1,369.3 289.9,371.1 287.6,372.5 286.7,374.7 284,376.1 282.2,377.4"/>
<polyline class="coast" points="232.8,299.2 235.5,297 238.2,294.3 240.9,292 244,291.1 246.7,291.6 248.1,290.7 249.4,292.9 250.3,295.6 252.1,297 251.7,300.1 249.4,301.5 246.7,304.1 244.9,306.8 244,310 242.2,313.1 240.9,315.4 238.6,315.8 237.3,318.5 236.8,322.1 235.9,325 233.7,327.5 231.5,328.9"/>
<polyline class="coast" points="252.1,297 253.9,294.7 256.2,296.1 257.5,298.8 258.4,302.3 258,305.5"/>
<polyline class="coast" points="220.7,327.5 220.7,325 221.1,321.2 220.7,317.6 219.3,314 218,310.4 219.3,307.7 218.4,304.6 221.6,305.9 221.1,310.4 224.3,310.4 227.9,310.4 231.5,310.9 234.1,311.3 233.7,314 231.5,314.9 230.6,317.6 232.3,320.3 233.7,323 234.6,325.7"/>
<polyline class="coast" points="220.7,298.8 223.4,296.1 226.1,296.5 228.8,297 231,297.9 232.8,299.2 233.2,301.5 230.6,301.9 227,302.3 223.4,301.9 221.1,301.5 220.7,298.8"/>
<polyline class="coast" points="305.2,421.8 310,420.6 314.8,421.2 319,419.4 321.4,415.8 322,411 323.2,407.4 328,406.8 331.6,407.4"/>
<polyline class="coast" points="305.5,416.8 306.7,420.4 309.7,422.2 313.9,421 318.7,419.8 321.7,417.4 324,415.6"/>
<polyline class="coast" points="261.4,389.2 263,392.2 266,393.4"/>
<polyline class="coast" points="419.4,439.1 419.4,443.3"/>
<polyline class="coast" points="168.6,210.9 172.9,211.4 178.6,211.1 182.9,210.9"/>
<polyline class="coast" points="189.1,211 193.1,211.7 194.9,213.6 196,217.1"/>
<polyline class="coast" points="294,230.7 300,229.4 302.9,227.3 307.9,225.1 307.1,223 307.9,219.4 311.4,218.7 315.7,218 320.7,216.6 324.3,213.7 328.6,211.6 332.9,210.6 338.6,210.9 339.3,209.4 336.4,206.6 332.9,204.4 328.6,205.4 324.3,205.9 322.9,203.7 324.3,200.9 325.7,196.6"/>
<polyline class="coast" points="294,195.7 294.3,197.3 298.6,198.7 304.3,198.7 310,196.6 314.3,195.1 318.6,194.4 322.9,195.9 325.7,196.3 329.3,197.3 332.9,195.9 336.4,194.4 337.9,190.9 340,187.3 341.4,184.4 339.3,183 341.4,180.9 345,179.4 350,179.1"/>
<polyline class="coast" points="191.4,176.9 198.6,173.1"/>
<polyline class="coast" points="228.6,173.1 231.4,171.1 235.7,170.3"/>
<polyline class="coast" points="230,174 230.6,178"/>
<polyline class="coast" points="274.3,170.3 275.7,176 277.1,180.3"/>
<polyline class="coast" points="200,197.4 202,199.7"/>
<polyline class="coast" points="254.9,190 255.6,187.9 260.6,186 266.3,188.6 271.3,190.7"/>
<polyline class="coast" points="84,349.2 81.6,344.4 78.9,339.4"/>
<polygon class="isl" points="339.4,360.8 343,360.1 344.4,362.9 343.7,366.5 341.5,368 339.7,365.1" style="stroke-width:2.2;fill:#aaa"/>
<polygon class="isl" points="345.5,359.7 348.4,359.3 348.7,361.9 346.2,362.2" style="stroke-width:2.2;fill:#aaa"/>
<polygon class="isl" points="348.7,360.8 352.3,361.5 355.9,361.5 356.6,363.7 353.8,365.1 350.9,364.4" style="stroke-width:2.2;fill:#aaa"/>
<polygon class="isl" points="356.6,367.3 360.2,368 361.7,370.8 361.7,374.4 359.5,375.2 358.1,372.3 356.6,370.1" style="stroke-width:2.2;fill:#aaa"/>
<polygon class="isl" points="357.3,375.2 360.2,375.9 360.9,378.8 360.2,381.6 358.4,380.2 357.7,377.7" style="stroke-width:2.2;fill:#aaa"/>
<polygon class="isl" points="346.6,370.1 350.2,369.4 351.6,372.3 350.2,375.9 347.3,375.2 346.2,372.3" style="stroke-width:2.2;fill:#aaa"/>
<polygon class="isl" points="348.7,376.6 351.6,375.9 353,378.8 352.3,382.3 350.2,383.8 348.7,380.9" style="stroke-width:2.2;fill:#aaa"/>
<polygon class="isl" points="353,366.5 355.2,368 355.9,371.6 355.6,375.2 355.9,378.8 354.8,382.3 353.8,380.2 353.4,376.6 352.7,371.6" style="stroke-width:2.2;fill:#aaa"/>
<polygon class="isl" points="355.2,381.6 358.1,381.6 358.4,383.8 355.9,384.1" style="stroke-width:2.2;fill:#aaa"/>
<polygon class="isl" points="343,364.4 346.6,365.1 348,368 345.1,368.7" style="stroke-width:2.2;fill:#aaa"/>
<polyline class="coast" points="339.4,373.7 327.5,389.9" style="stroke-width:3"/>
<polyline class="coast" points="402.2,189.2 403.5,188.3" style="stroke-width:2"/>
<polyline class="coast" points="414.3,185.9 416.6,185.1" style="stroke-width:2"/>
<polyline class="coast" points="414.8,179.7 415.3,180.2" style="stroke-width:2"/>
<polyline class="coast" points="375.7,426.7 378.2,429.3" style="stroke-width:2"/>
<polyline class="coast" points="379.3,427.8 382.3,428.8" style="stroke-width:2"/>
<polyline class="coast" points="376.2,434.4 380.3,435.9" style="stroke-width:2"/>
<polyline class="coast" points="368,433.9 370.6,434.4" style="stroke-width:2"/>
<polyline class="coast" points="396.1,428.8 399.7,431.3 403.8,433.9" style="stroke-width:2"/>
<polyline class="coast" points="396.6,433.6 400.7,434.9" style="stroke-width:2"/>
<polyline class="coast" points="386.4,441 390.5,441.7 393.6,441.3" style="stroke-width:2"/>
<polyline class="coast" points="162.1,215.7 162.9,213.1 165,211.4 168.6,210.9" style="stroke-width:2"/>
<polyline class="coast" points="175.4,223.9 180,224.3" style="stroke-width:2"/>
<polyline class="coast" points="140,236.4 142.9,237.1" style="stroke-width:2"/>
<polyline class="coast" points="147.9,240 150.7,239.3" style="stroke-width:2"/>
<polyline class="coast" points="143.6,193.6 147.1,192.1" style="stroke-width:2"/>
<polyline class="coast" points="108.3,211.4 115.7,210.4" style="stroke-width:2"/>
<polyline class="coast" points="200.6,197.1 202,200 199.4,202.9 203.4,205" style="stroke-width:2"/>
<polyline class="coast" points="182,211.4 184,211.7" style="stroke-width:2"/>
<polyline class="coast" points="213.7,207.9 215.1,208.3" style="stroke-width:2"/>
<polyline class="coast" points="234.1,192.6 237.4,194" style="stroke-width:2"/>
<polyline class="coast" points="235.6,199.4 239.1,200" style="stroke-width:2"/>
<polyline class="coast" points="233.1,204.7 238.4,204.3 238.4,206" style="stroke-width:2"/>
<polyline class="coast" points="212,231.7 215.6,232.9" style="stroke-width:2"/>
<polyline class="coast" points="226,238.6 226.4,241.4" style="stroke-width:2"/>
<polyline class="coast" points="253.9,265 254.4,265.3" style="stroke-width:2"/>
<polyline class="coast" points="306.1,183 307.9,183.3" style="stroke-width:2"/>
<polyline class="coast" points="311.1,185.4 313.1,185.7" style="stroke-width:2"/>
<polyline class="coast" points="326,226.6 327.1,226.9" style="stroke-width:2"/>
<polyline class="coast" points="329.3,216.3 330.9,216.6" style="stroke-width:2"/>
<polyline class="coast" points="365.3,225.1 366.1,225.7" style="stroke-width:2"/>
<polyline class="coast" points="372.6,224 374.6,223.4" style="stroke-width:2"/>
<polyline class="coast" points="311.7,238.3 314.3,237.7" style="stroke-width:2"/>
<polyline class="coast" points="296.4,237.4 297.7,238" style="stroke-width:2"/>
<polyline class="coast" points="354.6,233 356,232.6" style="stroke-width:2"/>
<polyline class="coast" points="327.1,239.1 328.9,239.4" style="stroke-width:2"/>
<polyline class="coast" points="322.3,240.1 323.7,240.4" style="stroke-width:2"/>
<polyline class="coast" points="365.7,305 369.3,305.7" style="stroke-width:2"/>
<polyline class="coast" points="370,302.1 372.1,300" style="stroke-width:2"/>
<polyline class="coast" points="373.6,297.9 377.1,295.4" style="stroke-width:2"/>
<polyline class="coast" points="351.7,314.3 355,313.6" style="stroke-width:2"/>
<polyline class="coast" points="357.9,312.6 360,312.1" style="stroke-width:2"/>
<polyline class="coast" points="380,253.6 381.1,254" style="stroke-width:2"/>
<polyline class="coast" points="389.3,258.9 390.7,258.3" style="stroke-width:2"/>
<polyline class="coast" points="363.6,272.1 366.4,272.9" style="stroke-width:2"/>
<polyline class="coast" points="374.3,267.1 375.7,269.3" style="stroke-width:2"/>
<polyline class="coast" points="332.1,272.9 337.1,275" style="stroke-width:2"/>
<polyline class="coast" points="328.6,266.4 329.7,267.1" style="stroke-width:2"/>
<polyline class="coast" points="340,278.6 345.7,281.4" style="stroke-width:2"/>
<polyline class="coast" points="341.4,282.9 345,285.7" style="stroke-width:2"/>
<polyline class="coast" points="334.3,289.3 336.4,290" style="stroke-width:2"/>
<polyline class="coast" points="325,287.9 326.4,288.6" style="stroke-width:2"/>
<polyline class="coast" points="376.4,270.7 377.9,275.7" style="stroke-width:2"/>
<polyline class="coast" points="378.6,277.1 380.7,282.9" style="stroke-width:2"/>
<polyline class="coast" points="404.3,254.3 405.7,253.6" style="stroke-width:2"/>
<polyline class="coast" points="409.3,250 410.3,251.1" style="stroke-width:2"/>
<polyline class="coast" points="333.4,404.7 335.1,404" style="stroke-width:2"/>
<polyline class="coast" points="346.4,396.3 348.1,395.3" style="stroke-width:2"/>
<polyline class="coast" points="360.6,402 361,403.6" style="stroke-width:2"/>
<polyline class="coast" points="360.2,406.8 360.6,408.9" style="stroke-width:2"/>
<polyline class="coast" points="359.6,412 360,415.1" style="stroke-width:2"/>
<polyline class="coast" points="392.6,394.2 394.5,391.5" style="stroke-width:2"/>
<polyline class="coast" points="408.3,382.7 409.1,382.1" style="stroke-width:2"/>
<polyline class="coast" points="365.9,404.7 366.5,406.8" style="stroke-width:2"/>
<polyline class="coast" points="355.4,434.6 360.6,435.4" style="stroke-width:2"/>
<polyline class="coast" points="348.1,429.1 352.3,430.8 354.8,433.9" style="stroke-width:2"/>
<polyline class="coast" points="370,418.3 371.5,415.1" style="stroke-width:2"/>
<polyline class="coast" points="367.9,424.5 369.4,428.7" style="stroke-width:2"/>
<polyline class="coast" points="348.1,440.2 352.3,441.3" style="stroke-width:2"/>
<polyline class="coast" points="332.3,272.9 336.6,274.3" style="stroke-width:2"/>
<polyline class="coast" points="338,277.1 345.1,279.3" style="stroke-width:2"/>
<polyline class="coast" points="340.9,281.4 346.6,283.6" style="stroke-width:2"/>
<polyline class="coast" points="335.1,288.6 338,290" style="stroke-width:2"/>
<polyline class="coast" points="323.7,287.9 326.6,289.3" style="stroke-width:2"/>
<polyline class="coast" points="318,287.1 320.1,287.9" style="stroke-width:2"/>
<polyline class="coast" points="308.7,293.3 311.6,292.4 313.4,290" style="stroke-width:2"/>
<polyline class="coast" points="318.7,315.7 320.1,317.1" style="stroke-width:2"/>
<polyline class="coast" points="328,266.4 329.4,267.1" style="stroke-width:2"/>
<polyline class="coast" points="324.1,260 325.1,260.4" style="stroke-width:2"/>
<polyline class="coast" points="262.3,256.1 265.9,256.7" style="stroke-width:2"/>
<polyline class="coast" points="254,265.3 254.9,265.9" style="stroke-width:2"/>
<polyline class="coast" points="263.7,306.4 264,307.9" style="stroke-width:2"/>
<polyline class="coast" points="273.7,311.4 274.4,313.6" style="stroke-width:2"/>
<polyline class="coast" points="343.7,270.7 344.9,271.9" style="stroke-width:2"/>
<polyline class="coast" points="169.7,312.4 170.3,313.6" style="stroke-width:2"/>
<polyline class="coast" points="196.9,316 198.6,314.9" style="stroke-width:2"/>
<polyline class="coast" points="199.3,326.4 202.9,327.1" style="stroke-width:2"/>
<polyline class="coast" points="197.1,280.7 200,281.1" style="stroke-width:2"/>
<polyline class="coast" points="207.9,283.9 211.7,283.1 212.6,281.7" style="stroke-width:2"/>
<polyline class="coast" points="172.9,281.1 174,282" style="stroke-width:2"/>
<polyline class="coast" points="122.6,300.4 123.1,301.1" style="stroke-width:2"/>
<polyline class="coast" points="157.1,324 159.3,324.3 159.3,326.4" style="stroke-width:2"/>
<polyline class="coast" points="147.9,320.7 150,320" style="stroke-width:2"/>
<polyline class="coast" points="105.1,185.4 106.6,186.6" style="stroke-width:2"/>
<polyline class="coast" points="144.9,193.7 148.6,192.3" style="stroke-width:2"/>
<polyline class="coast" points="159.4,179.4 160.9,180.3" style="stroke-width:2"/>
<polyline class="coast" points="175.7,173.1 180,172.3" style="stroke-width:2"/>
<polyline class="coast" points="184.9,179.7 185.7,181.1" style="stroke-width:2"/>
<polyline class="coast" points="215.7,186.9 216.3,188.3" style="stroke-width:2"/>
<polyline class="coast" points="234.6,192.6 236.9,194" style="stroke-width:2"/>
<polyline class="coast" points="439.1,436.5 446.8,437" style="stroke-width:2"/>
<polyline class="coast" points="453.2,433.9 458.3,437.8 463.4,440.3" style="stroke-width:2"/>
<polyline class="coast" points="236,384.4 236.6,385.6" style="stroke-width:2"/>
<polyline class="coast" points="237.8,388 238.6,389.8" style="stroke-width:2"/>
<polyline class="coast" points="239,393.4 240.2,395.8" style="stroke-width:2"/>
<polyline class="coast" points="245.6,413.2 249.2,415.6" style="stroke-width:2"/>
<polyline class="coast" points="252.2,420.4 254.6,423.4" style="stroke-width:2"/>
<polyline class="coast" points="256.6,427.3 257.3,428.3" style="stroke-width:2"/>
<polyline class="coast" points="258.8,432.3 261.2,435.9" style="stroke-width:2"/>
<polyline class="coast" points="261.8,437.7 263.6,440.7" style="stroke-width:2"/>
<polyline class="coast" points="294.3,408.1 295,409.3" style="stroke-width:2"/>
<polyline class="coast" points="238.9,357.5 239.3,358" style="stroke-width:2"/>
<polyline class="coast" points="237.3,361.2 238.1,361.4" style="stroke-width:2"/>
<polyline class="coast" points="236.2,364.1 235.7,367.3 235.2,370.9 234.7,373.2" style="stroke-width:2"/>
<polyline class="coast" points="234.4,375.9 234.4,378.1" style="stroke-width:2"/>
<polyline class="coast" points="240.8,364.7 241.3,364.9" style="stroke-width:2"/>
<polyline class="coast" points="233.3,373.4 234,373.6" style="stroke-width:2"/>
<polyline class="coast" points="254.5,368 255.9,371.6 256.7,375.9 257.4,380.3" style="stroke-width:2"/>
<polyline class="coast" points="241.6,350.8 243.7,353.3 245.2,352.9" style="stroke-width:2"/>
<rect class="gd" x="430.5" y="391.6" width="2" height="2"/>
<rect class="gd" x="439.4" y="390.8" width="2" height="2"/>
<rect class="gd" x="450.9" y="391.3" width="2" height="2"/>
<rect class="gd" x="459.8" y="387.0" width="2" height="2"/>
<rect class="gd" x="461.1" y="392.9" width="2" height="2"/>
<rect class="gd" x="462.9" y="393.9" width="2" height="2"/>
<rect class="gd" x="466.2" y="400.5" width="2" height="2"/>
<rect class="gd" x="473.8" y="390.8" width="2" height="2"/>
<rect class="gd" x="481.5" y="398.5" width="2" height="2"/>
<rect class="gd" x="471.3" y="407.4" width="2" height="2"/>
<rect class="gd" x="503.2" y="400.5" width="2" height="2"/>
<rect class="gd" x="499.4" y="372.5" width="2" height="2"/>
<rect class="gd" x="517.2" y="373.5" width="2" height="2"/>
<rect class="gd" x="526.1" y="357.7" width="2" height="2"/>
<rect class="gd" x="530.0" y="368.4" width="2" height="2"/>
<rect class="gd" x="519.8" y="383.2" width="2" height="2"/>
<rect class="gd" x="521.0" y="385.7" width="2" height="2"/>
<rect class="gd" x="522.3" y="388.3" width="2" height="2"/>
<rect class="gd" x="523.6" y="390.3" width="2" height="2"/>
<rect class="gd" x="528.7" y="379.4" width="2" height="2"/>
<rect class="gd" x="530.7" y="381.9" width="2" height="2"/>
<rect class="gd" x="532.5" y="385.7" width="2" height="2"/>
<rect class="gd" x="527.4" y="429.6" width="2" height="2"/>
<rect class="gd" x="430.5" y="431.7" width="2" height="2"/>
<rect class="gd" x="434.3" y="430.4" width="2" height="2"/>
<rect class="gd" x="470.0" y="439.8" width="2" height="2"/>
<rect class="gd" x="551.7" y="436.8" width="2" height="2"/>
<rect class="gd" x="468.7" y="384.5" width="2" height="2"/>
<rect class="gd" x="454.7" y="385.7" width="2" height="2"/>
<rect class="gd" x="490.4" y="394.7" width="2" height="2"/>
<rect class="gd" x="436.9" y="350.0" width="2" height="2"/>
<rect class="gd" x="435.8" y="341.1" width="2" height="2"/>
<rect class="gd" x="420.3" y="309.2" width="2" height="2"/>
<rect class="gd" x="157.6" y="373.0" width="2" height="2"/>
<rect class="gd" x="158.2" y="374.8" width="2" height="2"/>
<rect class="gd" x="158.8" y="376.6" width="2" height="2"/>
<rect class="gd" x="161.8" y="376.0" width="2" height="2"/>
<rect class="gd" x="159.4" y="392.8" width="2" height="2"/>
<rect class="gd" x="160.0" y="395.2" width="2" height="2"/>
<rect class="gd" x="160.6" y="397.6" width="2" height="2"/>
<rect class="gd" x="161.2" y="400.0" width="2" height="2"/>
<rect class="gd" x="161.2" y="402.4" width="2" height="2"/>
<rect class="gd" x="160.8" y="404.2" width="2" height="2"/>
<rect class="gd" x="158.8" y="406.0" width="2" height="2"/>
<rect class="gd" x="158.2" y="407.8" width="2" height="2"/>
<rect class="gd" x="158.4" y="409.6" width="2" height="2"/>
<rect class="gd" x="160.6" y="412.0" width="2" height="2"/>
<rect class="gd" x="160.8" y="414.4" width="2" height="2"/>
<rect class="gd" x="160.6" y="416.8" width="2" height="2"/>
<rect class="gd" x="160.0" y="422.8" width="2" height="2"/>
<rect class="gd" x="160.6" y="425.1" width="2" height="2"/>
<rect class="gd" x="160.0" y="429.3" width="2" height="2"/>
<rect class="gd" x="156.7" y="379.0" width="2" height="2"/>
<rect class="gd" x="293.7" y="407.4" width="2" height="2"/>
<rect class="gd" x="293.1" y="405.0" width="2" height="2"/>
<rect class="gd" x="297.3" y="432.5" width="2" height="2"/>
<rect class="gd" x="294.3" y="425.4" width="2" height="2"/>
<rect class="gd" x="274.6" y="381.0" width="2" height="2"/>
<rect class="gd" x="276.4" y="383.4" width="2" height="2"/>
<rect class="gd" x="287.8" y="385.2" width="2" height="2"/>
<rect class="gd" x="307.5" y="385.8" width="2" height="2"/>
<rect class="gd" x="315.3" y="391.8" width="2" height="2"/>
<rect class="gd" x="317.1" y="373.8" width="2" height="2"/>
<rect class="gd" x="317.1" y="378.6" width="2" height="2"/>
<rect class="gd" x="320.1" y="375.0" width="2" height="2"/>
<rect class="gd" x="239.0" y="368.8" width="2" height="2"/>
<rect class="bd" x="434.0" y="331.1" width="1.6" height="1.6"/>
<rect class="bd" x="435.5" y="334.9" width="1.6" height="1.6"/>
<rect class="bd" x="436.5" y="338.7" width="1.6" height="1.6"/>
<rect class="bd" x="437.3" y="343.1" width="1.6" height="1.6"/>
<rect class="bd" x="437.6" y="347.2" width="1.6" height="1.6"/>
<rect class="bd" x="437.1" y="351.5" width="1.6" height="1.6"/>
<rect class="bd" x="436.0" y="355.8" width="1.6" height="1.6"/>
<rect class="bd" x="435.0" y="359.9" width="1.6" height="1.6"/>
<rect class="bd" x="433.2" y="364.3" width="1.6" height="1.6"/>
<rect class="bd" x="516.1" y="336.7" width="1.6" height="1.6"/>
<rect class="bd" x="484.3" y="394.1" width="1.6" height="1.6"/>
<rect class="bd" x="512.3" y="372.7" width="1.6" height="1.6"/>
<rect class="bd" x="535.3" y="393.1" width="1.6" height="1.6"/>
<rect class="bd" x="536.5" y="397.4" width="1.6" height="1.6"/>
<rect class="bd" x="527.6" y="398.2" width="1.6" height="1.6"/>
<rect class="bd" x="522.5" y="400.0" width="1.6" height="1.6"/>
<rect class="bd" x="525.1" y="403.8" width="1.6" height="1.6"/>
<rect class="bd" x="524.3" y="391.0" width="1.6" height="1.6"/>
<rect class="bd" x="540.4" y="410.2" width="1.6" height="1.6"/>
<rect class="bd" x="540.9" y="414.0" width="1.6" height="1.6"/>
<rect class="bd" x="541.1" y="417.8" width="1.6" height="1.6"/>
<rect class="bd" x="542.2" y="421.1" width="1.6" height="1.6"/>
<rect class="bd" x="543.7" y="424.2" width="1.6" height="1.6"/>
<rect class="bd" x="546.0" y="428.0" width="1.6" height="1.6"/>
<rect class="bd" x="548.0" y="430.6" width="1.6" height="1.6"/>
<rect class="bd" x="550.6" y="431.9" width="1.6" height="1.6"/>
<rect class="bd" x="553.1" y="432.4" width="1.6" height="1.6"/>
<rect class="bd" x="554.4" y="438.2" width="1.6" height="1.6"/>
<rect class="bd" x="517.4" y="428.0" width="1.6" height="1.6"/>
<rect class="bd" x="599.8" y="439.0" width="1.6" height="1.6"/>
<rect class="bd" x="423.3" y="301.8" width="1.6" height="1.6"/>
<rect class="bd" x="159.8" y="387.6" width="1.6" height="1.6"/>
<rect class="bd" x="160.5" y="410.4" width="1.6" height="1.6"/>
<rect class="bd" x="161.0" y="415.2" width="1.6" height="1.6"/>
<polyline class="coast" points="378.6,287.1 375,292.1" style="stroke:#aaa;stroke-width:1.6"/>
<polyline class="coast" points="352.1,307.1 354.3,306.4" style="stroke:#aaa;stroke-width:1.6"/>
<polyline class="coast" points="356.4,306.4 357.4,307.1" style="stroke:#aaa;stroke-width:1.6"/>
<polyline class="coast" points="332.4,405.7 336.6,403.6" style="stroke:#aaa;stroke-width:1.6"/>
<polyline class="coast" points="338.7,402 342.9,399.4" style="stroke:#aaa;stroke-width:1.6"/>
<polyline class="coast" points="344.9,397.8 348.5,394.8" style="stroke:#aaa;stroke-width:1.6"/>
<polyline class="coast" points="349.8,393.2 352.3,391.5" style="stroke:#aaa;stroke-width:1.6"/>
<polyline class="coast" points="307.3,350.3 310.5,349.3" style="stroke:#aaa;stroke-width:1.6"/>
<polyline class="coast" points="317.8,374.4 318.4,381.7" style="stroke:#aaa;stroke-width:1.6"/>
<polyline class="coast" points="320.9,376 323.4,376.4" style="stroke:#aaa;stroke-width:1.6"/>
<polyline class="coast" points="309.4,386.9 309.8,387.3" style="stroke:#aaa;stroke-width:1.6"/>
<polyline class="coast" points="315.7,392.8 316.3,393.2" style="stroke:#aaa;stroke-width:1.6"/>
<polyline class="coast" points="343.5,382.3 344.3,383.1" style="stroke:#aaa;stroke-width:1.6"/>
<polyline class="coast" points="333.4,393.2 334.5,394.2" style="stroke:#aaa;stroke-width:1.6"/>
<polyline class="coast" points="385.3,404.7 386.1,405.7" style="stroke:#aaa;stroke-width:1.6"/>
<polyline class="coast" points="405.6,387.3 406.6,387.9" style="stroke:#aaa;stroke-width:1.6"/>
<polygon class="coast" points="284.6,411.4 288.2,412 287.6,415 285.2,414.4" style="stroke:#aaa;stroke-width:1;fill:#aaa"/>
<polygon class="coast" points="290.5,421 291.7,422.8 291.1,425.2" style="stroke:#aaa;stroke-width:1;fill:#aaa"/>
<polyline class="coast" points="296.5,413.2 297.7,416.2" style="stroke:#aaa;stroke-width:1.6"/>
<polygon class="coast" points="660.6,333.4 662.9,333.2 664.6,335.4 664.5,337.2 662.4,338.1 661.2,339.5 660.4,337.7 660.2,335.4" style="fill:#fff"/>
<polygon class="coast" points="104.3,216.4 106.4,213.6 110,211.1 114.3,210.4 117.4,210.7 116.4,213.6 117.1,217.1 116.9,220.7 114.3,223.6 111.4,225 107.4,226.4 104.6,225.7 104.3,222.1 103.6,219.3" style="fill:none"/>
<polygon class="coast" points="277.3,365.3 278.6,365.1 280,367.1 280.6,369.1 279.5,369.6 278.2,368 277.3,366.6" style="fill:#000"/>
<polygon class="coast" points="83.3,232.1 87.9,232.9 90.4,236.4 87.9,239.3 84.3,238.6" style="fill:none"/>
<polygon class="coast" points="172.1,230.7 175.7,229.7 180,230 179.3,231.4 175,231.7" style="fill:none"/>
<polygon class="coast" points="261.3,256 263.1,254.3 266,255 267,256.9 264.1,257.7" style="fill:none"/>
<polygon class="coast" points="279.3,185.9 285.7,183 291.4,178 296.4,173.7 299.3,170.1 301,171.1 297.1,177.3 292.9,180.9 287.1,185.1 281.4,188 279.3,188" style="fill:none"/>
<polygon class="coast" points="327.9,199.4 330.7,198.4 332.1,200.6 330,202.3 328.3,201.6" style="fill:#000"/>
<polygon class="coast" points="275.5,426.4 278.6,425.8 281.3,427 281.8,428.8 280,430.3 279.5,431.5 277.3,431.2 275.9,429.5" style="fill:none"/>
<polygon class="coast" points="280.9,434.9 283.1,433.6 285.8,434 286.7,436.7 289,439 292.1,439 294.8,439.4 294.4,441.7 292.1,442.1 288.5,441.7 284.9,440.3 282.2,438.5" style="fill:none"/>
<polygon class="coast" points="84,368.6 87,367.9 90,368.4 89.7,369.8 86.4,370.3 84,370" style="fill:#000"/>
<rect x="644.1" y="324.3" width="4.0" height="2.2" fill="#000"/>
<rect x="651.7" y="326.1" width="2.2" height="2.7" fill="#000"/>
<rect x="655.3" y="328.3" width="3.1" height="2.2" fill="#000"/>
<rect x="657.1" y="330.1" width="3.6" height="1.8" fill="#000"/></g><rect x="71" y="169" width="677" height="275" fill="none" stroke="#000" stroke-width="2" shape-rendering="crispEdges"/><g><line x1="66" y1="426.5" x2="70" y2="426.5" stroke="#000" stroke-width="1" shape-rendering="crispEdges"/><text class="lab" x="44.87" y="432" font-size="15.8" textLength="17.83" lengthAdjust="spacingAndGlyphs">EQ</text><line x1="66" y1="403.5" x2="70" y2="403.5" stroke="#000" stroke-width="1" shape-rendering="crispEdges"/><text class="lab" x="44.95" y="409" font-size="15.8" textLength="17.49" lengthAdjust="spacingAndGlyphs">5N</text><line x1="66" y1="380.5" x2="70" y2="380.5" stroke="#000" stroke-width="1" shape-rendering="crispEdges"/><text class="lab" x="35.85" y="386" font-size="15.8" textLength="26.63" lengthAdjust="spacingAndGlyphs">10N</text><line x1="66" y1="357.5" x2="70" y2="357.5" stroke="#000" stroke-width="1" shape-rendering="crispEdges"/><text class="lab" x="35.85" y="363" font-size="15.8" textLength="26.63" lengthAdjust="spacingAndGlyphs">15N</text><line x1="66" y1="334.5" x2="70" y2="334.5" stroke="#000" stroke-width="1" shape-rendering="crispEdges"/><text class="lab" x="36.33" y="340" font-size="15.8" textLength="26.23" lengthAdjust="spacingAndGlyphs">20N</text><line x1="66" y1="311.5" x2="70" y2="311.5" stroke="#000" stroke-width="1" shape-rendering="crispEdges"/><text class="lab" x="36.33" y="317" font-size="15.8" textLength="26.23" lengthAdjust="spacingAndGlyphs">25N</text><line x1="66" y1="288.5" x2="70" y2="288.5" stroke="#000" stroke-width="1" shape-rendering="crispEdges"/><text class="lab" x="36.29" y="294" font-size="15.8" textLength="26.25" lengthAdjust="spacingAndGlyphs">30N</text><line x1="66" y1="265.5" x2="70" y2="265.5" stroke="#000" stroke-width="1" shape-rendering="crispEdges"/><text class="lab" x="36.29" y="271" font-size="15.8" textLength="26.25" lengthAdjust="spacingAndGlyphs">35N</text><line x1="66" y1="241.5" x2="70" y2="241.5" stroke="#000" stroke-width="1" shape-rendering="crispEdges"/><text class="lab" x="36.79" y="247" font-size="15.8" textLength="25.65" lengthAdjust="spacingAndGlyphs">40N</text><line x1="66" y1="218.5" x2="70" y2="218.5" stroke="#000" stroke-width="1" shape-rendering="crispEdges"/><text class="lab" x="36.79" y="224" font-size="15.8" textLength="25.65" lengthAdjust="spacingAndGlyphs">45N</text><line x1="66" y1="195.5" x2="70" y2="195.5" stroke="#000" stroke-width="1" shape-rendering="crispEdges"/><text class="lab" x="36.07" y="201" font-size="15.8" textLength="26.52" lengthAdjust="spacingAndGlyphs">50N</text><line x1="66" y1="172.5" x2="70" y2="172.5" stroke="#000" stroke-width="1" shape-rendering="crispEdges"/><text class="lab" x="36.07" y="178" font-size="15.8" textLength="26.52" lengthAdjust="spacingAndGlyphs">55N</text><line x1="110.5" y1="445" x2="110.5" y2="449" stroke="#000" stroke-width="1" shape-rendering="crispEdges"/><text class="lab" x="98.32" y="463" font-size="15.8" textLength="24.24" lengthAdjust="spacingAndGlyphs">60E</text><line x1="186.5" y1="445" x2="186.5" y2="449" stroke="#000" stroke-width="1" shape-rendering="crispEdges"/><text class="lab" x="174.26" y="463" font-size="15.8" textLength="24.3" lengthAdjust="spacingAndGlyphs">80E</text><line x1="263.5" y1="445" x2="263.5" y2="449" stroke="#000" stroke-width="1" shape-rendering="crispEdges"/><text class="lab" x="247.04" y="463" font-size="15.8" textLength="32.26" lengthAdjust="spacingAndGlyphs">100E</text><line x1="339.5" y1="445" x2="339.5" y2="449" stroke="#000" stroke-width="1" shape-rendering="crispEdges"/><text class="lab" x="323.04" y="463" font-size="15.8" textLength="32.26" lengthAdjust="spacingAndGlyphs">120E</text><line x1="415.5" y1="445" x2="415.5" y2="449" stroke="#000" stroke-width="1" shape-rendering="crispEdges"/><text class="lab" x="399.04" y="463" font-size="15.8" textLength="32.26" lengthAdjust="spacingAndGlyphs">140E</text><line x1="492.5" y1="445" x2="492.5" y2="449" stroke="#000" stroke-width="1" shape-rendering="crispEdges"/><text class="lab" x="476.04" y="463" font-size="15.8" textLength="32.26" lengthAdjust="spacingAndGlyphs">160E</text><line x1="568.5" y1="445" x2="568.5" y2="449" stroke="#000" stroke-width="1" shape-rendering="crispEdges"/><text class="lab" x="555.64" y="463" font-size="15.8" textLength="25.11" lengthAdjust="spacingAndGlyphs">180</text><line x1="645.5" y1="445" x2="645.5" y2="449" stroke="#000" stroke-width="1" shape-rendering="crispEdges"/><text class="lab" x="627.35" y="463" font-size="15.8" textLength="35.34" lengthAdjust="spacingAndGlyphs">160W</text><line x1="721.5" y1="445" x2="721.5" y2="449" stroke="#000" stroke-width="1" shape-rendering="crispEdges"/><text class="lab" x="703.35" y="463" font-size="15.8" textLength="35.34" lengthAdjust="spacingAndGlyphs">140W</text></g><text class="ttl" font-size="25.4"><tspan x="140.9" y="157" textLength="82.64" lengthAdjust="spacingAndGlyphs">Rainfall</tspan> <tspan x="235.05" y="157" textLength="25.3" lengthAdjust="spacingAndGlyphs">(7</tspan><tspan x="260.46" y="157" textLength="17.79" lengthAdjust="spacingAndGlyphs">-</tspan><tspan x="279.12" y="157" textLength="36.95" lengthAdjust="spacingAndGlyphs">day</tspan> <tspan x="329.86" y="157" textLength="90.49" lengthAdjust="spacingAndGlyphs">accum.)</tspan> <tspan x="433.27" y="157" textLength="63.17" lengthAdjust="spacingAndGlyphs">[mm]</tspan> <tspan x="509.33" y="157" textLength="166.89" lengthAdjust="spacingAndGlyphs">21Z09Aug2018</tspan></text><g stroke="#000" stroke-width="1" stroke-linejoin="miter" shape-rendering="crispEdges">
<polygon points="306.5,535.5 363.5,528.5 363.5,542.5" fill="#aaa"/>
<rect x="363.5" y="528.5" width="57" height="14" fill="#fff"/>
<polygon points="420.5,528.5 477.5,535.5 420.5,542.5" fill="#aaa"/>
</g>
<text x="336.76" y="555.6" font-size="13.6" textLength="53.75" lengthAdjust="spacingAndGlyphs">177.366</text><text x="376.94" y="555.6" font-size="13.6" textLength="89.02" lengthAdjust="spacingAndGlyphs">1.77366e+06</text><text x="458.73" y="555.6" font-size="13.6" textLength="37.99" lengthAdjust="spacingAndGlyphs">[mm]</text></svg></body></html>
